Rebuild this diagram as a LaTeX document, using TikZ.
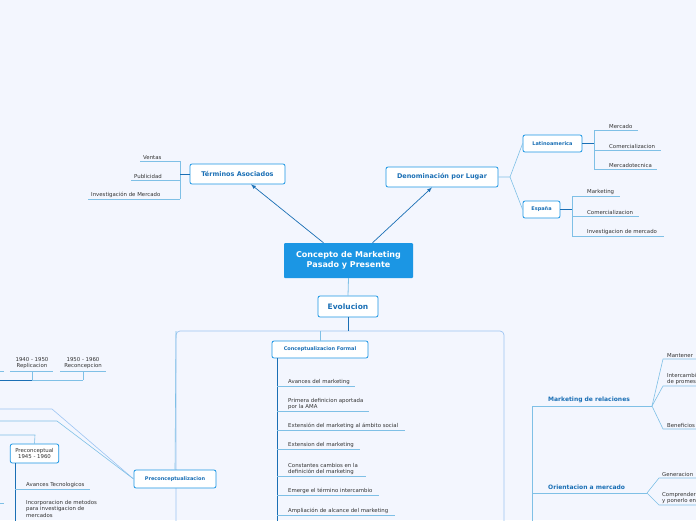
\documentclass[tikz,border=0pt]{standalone}
\usepackage{fontspec}
\setmainfont{DejaVu Sans}
\definecolor{bg}{HTML}{F3F6FE}
\definecolor{mainblue}{HTML}{1B96E4}
\definecolor{dblue}{HTML}{1A6FB5}
\definecolor{lblue}{HTML}{7FC0E6}
\definecolor{framec}{HTML}{9CC4F2}
\definecolor{txt}{HTML}{333333}
\tikzset{
  topic/.style={draw=mainblue, fill=white, rounded corners=2pt, line width=0.8pt, text=dblue, font=\bfseries\fontsize{6.5}{8}\selectfont, inner xsep=6pt, inner ysep=4pt},
  subtopic/.style={topic, font=\bfseries\fontsize{5}{6}\selectfont, inner xsep=5pt, inner ysep=3.5pt},
  leaf/.style={anchor=south west, inner sep=1pt, text=txt, align=left, font=\fontsize{5.4}{6.6}\selectfont},
  uline/.style={lblue, line width=0.6pt},
  link/.style={dblue, line width=0.7pt, -latex},
}
\begin{document}
\begin{tikzpicture}[x=1pt,y=-1pt]
  \fill[bg] (0,0) rectangle (696,520);
  \useasboundingbox (0,0) rectangle (696,520);
  \clip (0,0) rectangle (696,520);
  % centro
  \node[fill=mainblue, text=white, rounded corners=1pt, align=center, minimum width=129pt, minimum height=35pt,
        font=\bfseries\fontsize{8}{10.5}\selectfont] (main) at (348.5,260.5) {Concepto de Marketing\\Pasado y Presente};
  \node[topic, font=\bfseries\fontsize{7.5}{9}\selectfont, minimum width=60pt, minimum height=21pt] (evo) at (348,306.5) {Evolucion};
  \node[topic, minimum width=95pt, minimum height=20pt] (term) at (237.5,174) {Términos Asociados};
  \node[topic, minimum width=112pt, minimum height=20pt] (deno) at (442,177) {Denominación por Lugar};
  \draw[link] ([xshift=-25pt]main.north) -- (term.south east -| 251,0);
  \draw[link] ([xshift=24pt]main.north) -- (deno.south -| 432,0);
  \draw[lblue, line width=0.8pt] (main.south) -- (evo.north);
  % terminos asociados
  \foreach \t/\y/\x in {Ventas/161/140, Publicidad/180/131, Investigación de Mercado/199/88}{
    \node[leaf] at (\x+2,\y) {\t};
    \draw[uline] (\x,\y) -- (180,\y);
  }
  \draw[uline] (180,161) -- (180,199);
  \draw[dblue, line width=0.7pt] (180,174) -- (term.west);
  % denominacion
  \node[subtopic, minimum width=59pt, minimum height=17pt] (lat) at (552.5,143.5) {Latinoamerica};
  \node[subtopic, minimum width=37pt, minimum height=17pt] (esp) at (541.5,209.5) {España};
  \coordinate (dfork) at (510,177);
  \draw[uline] (deno.east) -- (dfork) -- (lat.west);
  \draw[uline] (dfork) -- (esp.west);
  \foreach \t/\y/\x in {Mercado/130/638, Comercializacion/150/661, Mercadotecnica/169/657}{
    \node[leaf] at (608,\y) {\t};
    \draw[uline] (594,\y) -- (\x,\y);
  }
  \draw[uline] (594,130) -- (594,169);
  \draw[dblue, line width=0.7pt] (lat.east) -- (594,143.5);
  \foreach \t/\y/\x in {Marketing/196/620, Comercializacion/216/639, Investigacion de mercado/236/664}{
    \node[leaf] at (586,\y) {\t};
    \draw[uline] (572,\y) -- (\x,\y);
  }
  \draw[uline] (572,196) -- (572,236);
  \draw[dblue, line width=0.7pt] (esp.east) -- (572,209.5);
  % marco de evolucion
  \draw[framec, line width=0.7pt, rounded corners=4pt] (176,530) -- (176,331) -- (504,331) -- (504,530);
  \draw[dblue, line width=0.8pt] (evo.south) -- (348,331);
  % conceptualizacion formal
  \node[subtopic, minimum width=96pt, minimum height=17pt] (cf) at (320,349.5) {Conceptualizacion Formal};
  \draw[lblue, line width=0.6pt, rounded corners=3pt] (cf.north) -- (320,331);
  \draw[dblue, line width=0.8pt] (277,358) -- (277,525);
  \foreach \t/\y/\x in {Avances del marketing/386/355, {Primera definicion aportada\\por la AMA}/411/369,
      Extensión del marketing al ámbito social/430/405, Extension del marketing/449/360,
      {Constantes cambios en la\\definición del marketing}/476/366, Emerge el término intercambio/495/379,
      Ampliación de alcance del marketing/515/395}{
    \node[leaf] at (287,\y) {\t};
    \draw[uline] (277,\y) -- (\x,\y);
  }
  % preconceptualizacion
  \node[subtopic, minimum width=82pt, minimum height=18pt] (pre) at (175,479) {Preconceptualizacion};
  \draw[lblue, line width=0.6pt, rounded corners=3pt] (pre.north) -- (176,331);
  \draw[framec, line width=0.6pt] (pre.west) -- (52,409) -- (0,409);
  \draw[lblue, line width=0.6pt] (pre.west) -- (57,421) -- (0,421);
  \node[subtopic, font=\fontsize{5.4}{6.6}\selectfont, text=txt, align=center, minimum width=47pt, minimum height=19pt] (pc) at (34.5,453.5) {Preconceptual\\1945 - 1960};
  \draw[lblue, line width=0.6pt] (0,435) -- (35,435) -- (pc.north);
  \draw[dblue, line width=0.8pt] (15,463) -- (15,525);
  \node[leaf] at (25,489) {Avances Tecnologicos};
  \draw[uline] (15,489) -- (90,489);
  \node[leaf, anchor=north west] at (25,499) {Incorporacion de metodos\\para investigacion de\\mercados};
  \draw[uline] (0,503) -- (4,503);
  % linea del tiempo
  \foreach \t/\c/\a/\b in {{1940 - 1950\\Replicacion}/32/10/53, {1950 - 1960\\Reconcepcion}/83/60/106}{
    \node[leaf, anchor=south, align=center] at (\c,370) {\t};
    \draw[uline] (\a,371) -- (\b,371);
    \draw[uline] (\c,371) -- (\c,380);
  }
  \draw[uline] (0,371) -- (4,371);
  \draw[dblue, line width=0.6pt] (0,380) -- (32,380);
  \draw[uline] (32,380) -- (83,380);
  % lado derecho
  \draw[lblue, line width=0.7pt] (532,406) -- (532,525);
  \node[anchor=south west, inner sep=1pt, text=dblue, font=\bfseries\fontsize{6}{7}\selectfont] at (547,404) {Marketing de relaciones};
  \draw[uline] (532,406) -- (652,406);
  \node[anchor=south west, inner sep=1pt, text=dblue, font=\bfseries\fontsize{6}{7}\selectfont] at (547,491) {Orientacion a mercado};
  \draw[uline] (532,493) -- (647,493);
  \foreach \t/\y in {Mantener/359, {Intercambio\\de promesas}/386, Beneficios/429}{
    \node[leaf] at (666,\y) {\t};
    \draw[uline] (652,406) -- (663,\y) -- (700,\y);
  }
  \foreach \t/\y in {Generacion/478, {Comprender\\y ponerlo en}/505}{
    \node[leaf] at (661,\y) {\t};
    \draw[uline] (647,493) -- (659,\y) -- (700,\y);
  }
\end{tikzpicture}
\end{document}
